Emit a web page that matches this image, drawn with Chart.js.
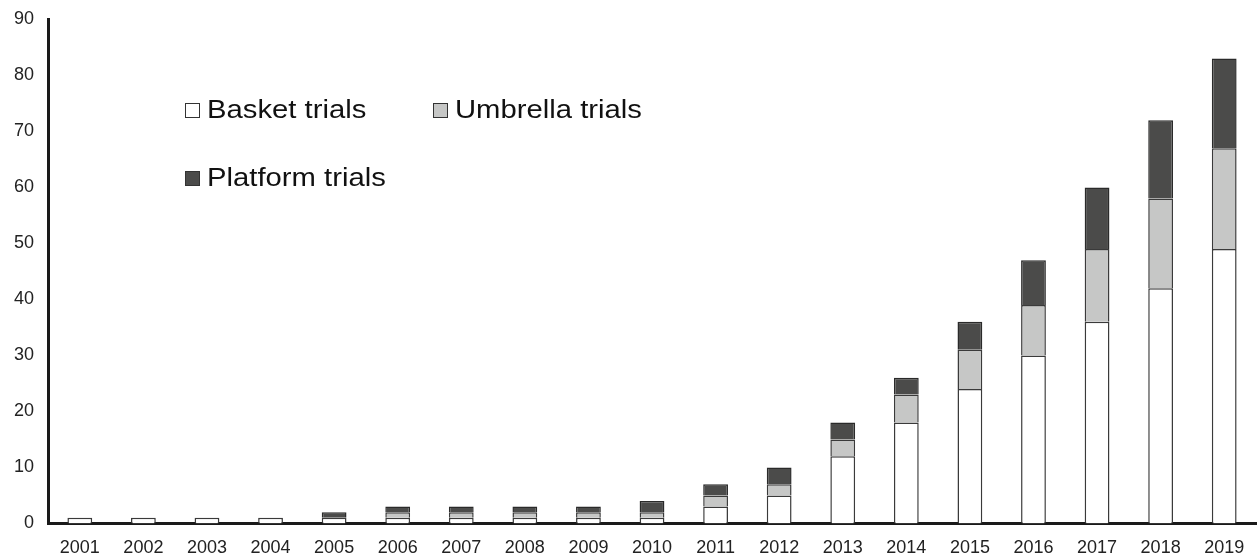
<!DOCTYPE html>
<html>
<head>
<meta charset="utf-8">
<script src="https://cdn.jsdelivr.net/npm/chart.js@4/dist/chart.umd.min.js"></script>
<style>
html,body{margin:0;padding:0;background:#fff;}
#wrap{width:1260px;height:560px;position:relative;}
</style>
</head>
<body>
<div id="wrap"><canvas id="c" width="1260" height="560"></canvas></div>
<script>
const years = ['2001','2002','2003','2004','2005','2006','2007','2008','2009','2010','2011','2012','2013','2014','2015','2016','2017','2018','2019'];
const basket   = [1,1,1,1,1,1,1,1,1,1,3,5,12,18,24,30,36,42,49];
const umbrella = [0,0,0,0,0,1,1,1,1,1,2,2,3,5,7,9,13,16,18];
const platform = [0,0,0,0,1,1,1,1,1,2,2,3,3,3,5,8,11,14,16];
const seriesNames = ['Basket trials','Umbrella trials','Platform trials'];
const yTicks = [0,10,20,30,40,50,60,70,80,90];

const fills = ['#ffffff','#c6c7c6','#4b4b4a'];
const FONT = '"Liberation Sans", Arial, sans-serif';

const legendPlugin = {
  id: 'customLegend',
  afterDraw(chart) {
    const ctx = chart.ctx;
    const items = [
      {x:185, y:110},
      {x:433, y:110},
      {x:185, y:178}
    ];
    ctx.save();
    ctx.font = '25px ' + FONT;
    ctx.textBaseline = 'middle';
    chart.data.datasets.forEach((ds, i) => {
      const it = items[i];
      ctx.fillStyle = ds.backgroundColor;
      ctx.fillRect(it.x, it.y - 7, 15, 15);
      ctx.strokeStyle = '#333';
      ctx.lineWidth = 1;
      ctx.strokeRect(it.x + 0.5, it.y - 6.5, 14, 14);
      ctx.save();
      ctx.translate(it.x + 22, it.y + 1);
      ctx.scale(1.17, 1);
      ctx.fillStyle = '#111';
      ctx.fillText(ds.label, 0, 0);
      ctx.restore();
    });
    ctx.restore();
  }
};

new Chart(document.getElementById('c'), {
  type: 'bar',
  data: {
    labels: years,
    datasets: [
      {label: seriesNames[0], data: basket,   backgroundColor: fills[0], borderColor: '#3a3a3a', borderWidth: 1.5},
      {label: seriesNames[1], data: umbrella, backgroundColor: fills[1], borderColor: '#3a3a3a', borderWidth: 1.5},
      {label: seriesNames[2], data: platform, backgroundColor: fills[2], borderColor: '#2a2a2a', borderWidth: 1.5}
    ]
  },
  options: {
    responsive: false,
    animation: false,
    layout: {padding: {top: 0, right: 4, left: 0, bottom: -13}},
    plugins: {legend: {display: false}, tooltip: {enabled: false}},
    datasets: {bar: {barPercentage: 0.39, categoryPercentage: 1}},
    scales: {
      x: {
        stacked: true,
        grid: {display: false, drawTicks: false},
        border: {display: true, color: '#1a1a1a', width: 3},
        ticks: {color: '#222', font: {size: 18, family: FONT}, padding: 14, maxRotation: 0}
      },
      y: {
        stacked: true,
        min: 0, max: 90,
        afterBuildTicks(axis){ axis.ticks = yTicks.map(v => ({value: v})); },
        grid: {display: false, drawTicks: false},
        border: {display: true, color: '#1a1a1a', width: 3},
        ticks: {color: '#222', font: {size: 18, family: FONT, lineHeight: 0.6}, padding: 14}
      }
    }
  },
  plugins: [legendPlugin]
});
</script>
</body>
</html>
